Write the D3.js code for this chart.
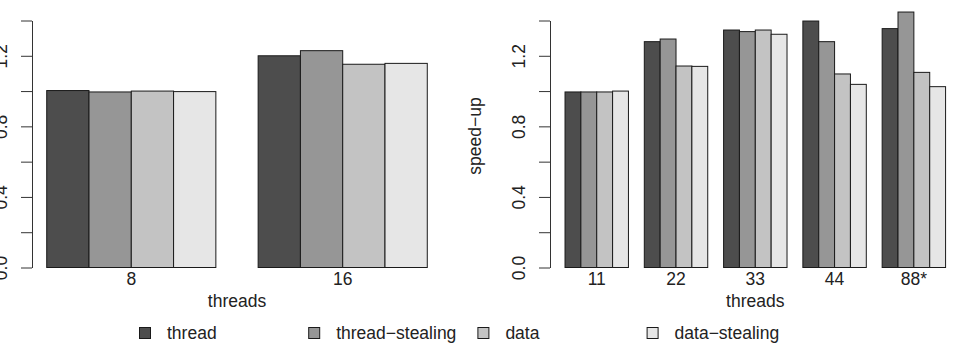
<!DOCTYPE html>
<html>
<head>
<meta charset="utf-8">
<script src="https://cdn.jsdelivr.net/npm/d3@7"></script>
<style>
body { margin: 0; background: white; }
text { font-family: "Liberation Sans", Arial, sans-serif; }
</style>
</head>
<body>
<div id="canvas"></div>
<script>
var w = 954;
var h = 347;

// data
var series = ["thread", "thread\u2212stealing", "data", "data\u2212stealing"];
var colors = ["#4d4d4d", "#969696", "#c3c3c3", "#e6e6e6"];

var leftThreads = ["8", "16"];
var leftThread = [1.003, 1.200];
var leftThreadStealing = [0.995, 1.229];
var leftData = [1.000, 1.152];
var leftDataStealing = [0.997, 1.157];

var rightThreads = ["11", "22", "33", "44", "88*"];
var rightThread = [0.995, 1.280, 1.346, 1.397, 1.354];
var rightThreadStealing = [0.995, 1.295, 1.337, 1.280, 1.448];
var rightData = [0.995, 1.142, 1.346, 1.097, 1.106];
var rightDataStealing = [1.000, 1.140, 1.322, 1.038, 1.025];

var yTicks = [0, 0.2, 0.4, 0.6, 0.8, 1.0, 1.2, 1.4];

//create a canvas
var svg = d3.select("#canvas").append("svg")
				.attr("width", w)
				.attr("height", h)
				.style("background-color", "white");

var yScale = d3.scaleLinear()
				.domain([0, 1.4])
				.range([267.5, 20.5]);

var colorScale = d3.scaleOrdinal()
				.domain(series)
				.range(colors);

function panel(left, cats, values, ylab){
	// R barplot style: space 1 before each group of 4 bars, 4% padding
	var nUnits = cats.length * 5;
	var pad = 0.04 * (nUnits - 1);
	var xScale = d3.scaleLinear()
					.domain([1 - pad, nUnits + pad])
					.range([left, left + 411]);
	var inner = d3.scaleBand()
					.domain(series)
					.range([0, 4]);

	var g = svg.append("g");

	var rows = [];
	cats.forEach(function(c, i){
		series.forEach(function(s, j){
			rows.push({cat: c, i: i, s: s, v: values[j][i]});
		});
	});

	g.selectAll("rect")
		.data(rows)
		.join("rect")
		.attr("x", function(d){
			return xScale(1 + d.i * 5 + inner(d.s));
		})
		.attr("y", function(d){
			return yScale(d.v);
		})
		.attr("width", function(d){
			return xScale(inner.bandwidth()) - xScale(0);
		})
		.attr("height", function(d){
			return yScale(0) - yScale(d.v);
		})
		.attr("fill", function(d){
			return colorScale(d.s);
		})
		.attr("stroke", "#1a1a1a")
		.attr("stroke-width", 1);

	// y axis, labels only every other tick, rotated like R
	var yAxis = d3.axisLeft(yScale)
					.tickValues(yTicks)
					.tickSize(11)
					.tickSizeOuter(0)
					.tickFormat(function(d){
						return Math.round(d * 10) % 4 == 0 ? d.toFixed(1) : "";
					});
	var ya = g.append("g")
				.attr("transform", "translate(" + Math.round(xScale(1 - pad)) + ",0)")
				.call(yAxis);
	ya.selectAll("path, line").attr("stroke", "#333");
	ya.selectAll("text")
		.attr("x", null)
		.attr("dy", null)
		.attr("text-anchor", "middle")
		.attr("transform", "translate(-25,0) rotate(-90)")
		.attr("fill", "#222")
		.style("font-size", "17.5px")
		.style("font-family", "Liberation Sans, Arial, sans-serif");

	// group labels
	g.selectAll(".cat")
		.data(cats)
		.join("text")
		.attr("class", "cat")
		.attr("x", function(d, i){
			return xScale(1 + i * 5 + 2);
		})
		.attr("y", 285)
		.attr("text-anchor", "middle")
		.attr("fill", "#222")
		.style("font-size", "17.5px")
		.text(function(d){ return d; });

	g.append("text")
		.attr("x", xScale((1 - pad + nUnits + pad) / 2))
		.attr("y", 307)
		.attr("text-anchor", "middle")
		.attr("fill", "#222")
		.style("font-size", "17.5px")
		.text("threads");

	g.append("text")
		.attr("transform", "translate(" + (xScale(1 - pad) - 69) + ",136) rotate(-90)")
		.attr("text-anchor", "middle")
		.attr("fill", "#222")
		.style("font-size", "17.5px")
		.text(ylab);
}

panel(31.5, leftThreads, [leftThread, leftThreadStealing, leftData, leftDataStealing], "speed\u2212up");
panel(549.8, rightThreads, [rightThread, rightThreadStealing, rightData, rightDataStealing], "speed\u2212up");

// legend along the bottom
var legend = svg.append("g");
var legendX = d3.scalePoint()
				.domain(series)
				.range([145, 145 + 3 * 169.2]);

legend.selectAll("rect")
	.data(series)
	.join("rect")
	.attr("x", function(d){ return legendX(d) - 5.5; })
	.attr("y", 327.5)
	.attr("width", 11)
	.attr("height", 11)
	.attr("fill", function(d){ return colorScale(d); })
	.attr("stroke", "#1a1a1a");

legend.selectAll("text")
	.data(series)
	.join("text")
	.attr("x", function(d){ return legendX(d) + 22; })
	.attr("y", 339)
	.attr("fill", "#222")
	.style("font-size", "17.5px")
	.text(function(d){ return d; });
</script>
</body>
</html>
